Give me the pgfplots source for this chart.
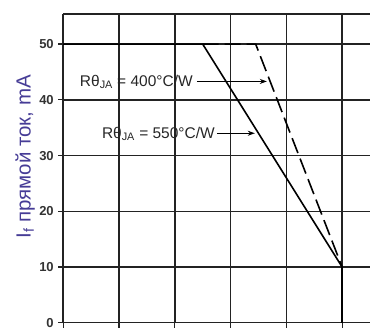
\documentclass[border=0pt]{standalone}
\usepackage{pgfplots}
\pgfplotsset{compat=1.18}
\usepackage{fontspec}
\setmainfont{Liberation Sans}
\usetikzlibrary{arrows.meta}
\definecolor{labblue}{RGB}{70,60,150}
\definecolor{gridc}{RGB}{35,35,35}
\begin{document}
\begin{tikzpicture}
\useasboundingbox (-63.3pt,-6pt) rectangle (307pt,323pt);
\begin{axis}[
  at={(0pt,0pt)}, anchor=south west,
  width=307pt, height=309pt, scale only axis,
  xmin=0, xmax=110, ymin=0, ymax=55.4,
  xtick={0,20,...,100}, ytick={0,10,...,50},
  extra y ticks={55.4}, extra y tick labels={},
  extra y tick style={grid=major, major tick length=0pt},
  grid=major,
  major grid style={gridc, line width=1.5pt},
  axis line style={draw=none},
  tick style={gridc, line width=1.2pt},
  tick align=outside, major tick length=5pt,
  xtick pos=left, ytick pos=left,
  tick label style={font=\bfseries\fontsize{13}{14}\selectfont, text=black!80},
  /pgf/number format/assume math mode=true,
  yticklabel style={xshift=-1pt},
  xticklabel style={yshift=1pt},
  ylabel={I\textsubscript{f} прямой ток, mA},
  ylabel style={at={(axis description cs:-0.124,0.537)}, anchor=center, font=\fontsize{20.5}{22}\selectfont, text=labblue},
  clip=false,
]
\addplot[black, line width=1.6pt] coordinates {(0,50) (50,50) (100,10)};
\addplot[black, line width=2.4pt] coordinates {(100,10) (100,0)};
\addplot[black, line width=1.6pt, dash pattern=on 16pt off 6pt] coordinates {(50,50) (69,50) (100,10)};
\node[anchor=base east, inner sep=0pt, font=\fontsize{15.5}{16}\selectfont, text=black!85] at (axis cs:46.5,42.4) {Rθ\textsubscript{JA} = 400°C/W};
\draw[-{Stealth[length=7pt,width=5pt]}, black, line width=1.1pt] (axis cs:47.9,43.3) -- (axis cs:73.0,43.3);
\node[anchor=base east, inner sep=0pt, font=\fontsize{15.5}{16}\selectfont, text=black!85] at (axis cs:54.4,33.1) {Rθ\textsubscript{JA} = 550°C/W};
\draw[-{Stealth[length=7pt,width=5pt]}, black, line width=1.1pt] (axis cs:55.1,34.0) -- (axis cs:68.7,34.0);
\end{axis}
\end{tikzpicture}
\end{document}
